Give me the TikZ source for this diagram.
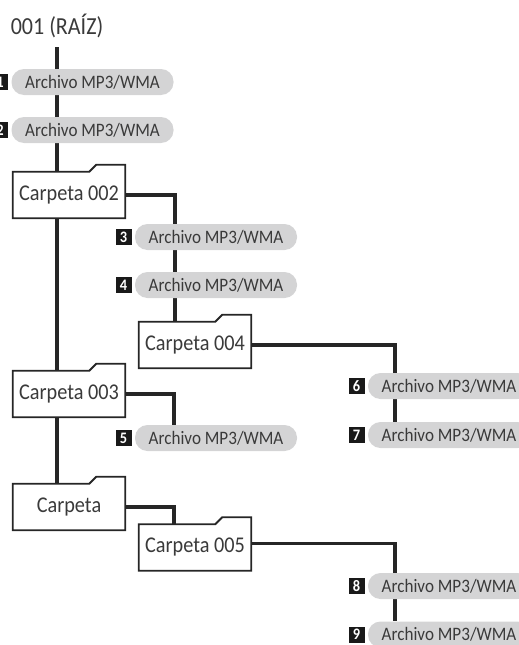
\documentclass[tikz,border=0pt]{standalone}
\usepackage{fontspec}
\setmainfont[FakeStretch=0.9]{Carlito}
\usetikzlibrary{positioning,backgrounds}
\definecolor{pillgray}{RGB}{212,212,213}
\definecolor{inkgray}{RGB}{58,58,58}
\tikzset{
  wire/.style={line width=3.6pt, black!85},
  pill/.style={fill=pillgray, rounded corners=12.5pt, minimum width=162pt, minimum height=26pt,
    inner sep=0pt, text=inkgray, font=\fontsize{19}{21}\selectfont},
  badge/.style={fill=black!90, text=white, minimum size=16pt, inner sep=0pt,
    font=\bfseries\fontsize{16}{17}\selectfont},
  folder/.style={minimum width=112pt, minimum height=46pt, inner sep=0pt,
    text=inkgray, font=\fontsize{22.5}{24}\selectfont},
  folderline/.style={line width=1.8pt, black!85, fill=white, line join=miter}
}
\begin{document}
\begin{tikzpicture}[x=1pt, y=-1pt]
    \useasboundingbox (0,0) rectangle (519,645);

    % Root
    \node[text=inkgray, font=\fontsize{24.5}{26}\selectfont] (root) at (57,26) {001 (RAÍZ)};

    % Files and folders
    \node[pill] (p1) at (92.5,82) {Archivo MP3/WMA};
    \node[pill] (p2) at (92.5,130) {Archivo MP3/WMA};
    \node[folder] (c002) at (69,195) {Carpeta 002};
    \node[pill] (p3) at (216,237) {Archivo MP3/WMA};
    \node[pill] (p4) at (216,285) {Archivo MP3/WMA};
    \node[folder] (c004) at (195,345) {Carpeta 004};
    \node[folder] (c003) at (69,394) {Carpeta 003};
    \node[pill] (p5) at (216,438) {Archivo MP3/WMA};
    \node[folder] (cx) at (69,507) {Carpeta};
    \node[folder] (c005) at (195,547.5) {Carpeta 005};
    \node[pill] (p6) at (449,386) {Archivo MP3/WMA};
    \node[pill] (p7) at (449,435) {Archivo MP3/WMA};
    \node[pill] (p8) at (449,586) {Archivo MP3/WMA};
    \node[pill] (p9) at (449,634.5) {Archivo MP3/WMA};

    % Track numbers
    \foreach \n in {1,...,9}
        \node[badge, left=3pt of p\n] (b\n) {\n};

    \begin{pgfonlayer}{background}
        % Connectors
        \draw[wire] ([yshift=-6pt]root.south) -- (root.south |- cx.north);
        \draw[wire] (c002.east) -| ([xshift=36pt]c004.north west);
        \draw[wire] (c003.east) -| ([xshift=39pt]p5.north west);
        \draw[wire] (cx.east) -| ([xshift=35pt]c005.north west);
        \draw[wire] (c004.east) -| ([xshift=27pt]p7.north west);
        \draw[wire] ([yshift=4pt]c005.east) -| ([xshift=27pt]p9.north west);

        % Folder outlines with tab
        \foreach \f in {c002,c003,c004,c005,cx}
            \filldraw[folderline] (\f.south west) -- (\f.north west)
                -- ([xshift=-36pt]\f.north east) -- ([xshift=-29pt,yshift=7pt]\f.north east)
                -- ([yshift=7pt]\f.north east) -- (\f.south east) -- cycle;
    \end{pgfonlayer}
\end{tikzpicture}
\end{document}
